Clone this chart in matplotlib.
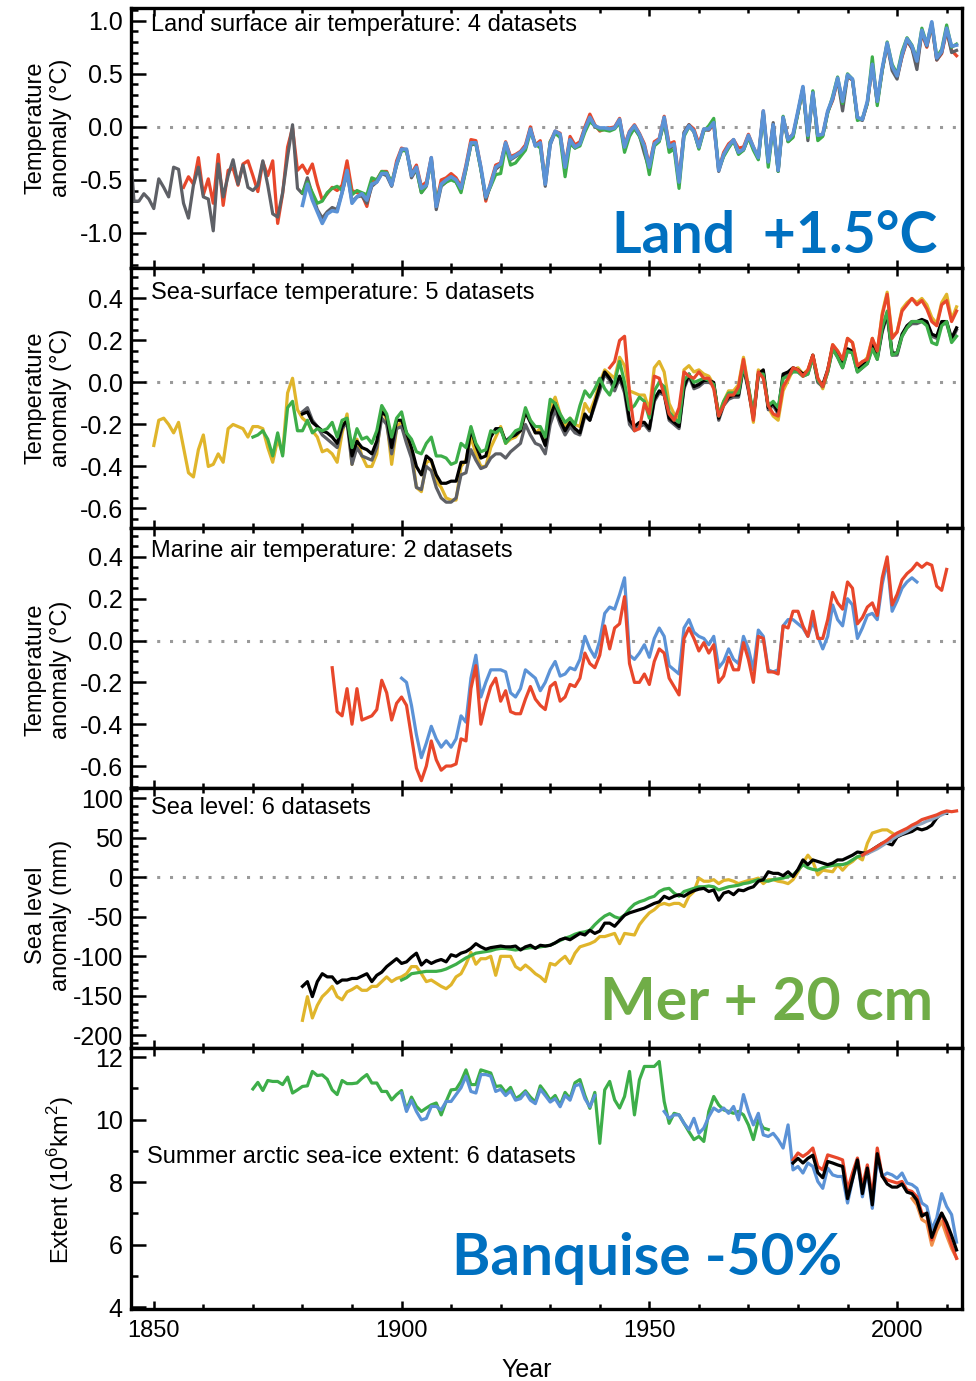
import numpy as np
import matplotlib.pyplot as plt
from matplotlib.ticker import MultipleLocator, FormatStrFormatter

plt.rcParams['font.family'] = ['Liberation Sans', 'DejaVu Sans']
plt.rcParams['axes.unicode_minus'] = False
plt.rcParams['mathtext.fontset'] = 'custom'
plt.rcParams['mathtext.rm'] = 'Liberation Sans'

# ---------------- Land surface air temperature (4 datasets) ----------------
land_blue_start = 1880
land_blue = [
    -0.74, -0.54, -0.69, -0.80, -0.91, -0.82, -0.79, -0.80, -0.62, -0.41,
    -0.72, -0.66, -0.63, -0.69, -0.54, -0.52, -0.44, -0.44, -0.55, -0.35,
    -0.21, -0.21, -0.46, -0.38, -0.58, -0.55, -0.29, -0.75, -0.54, -0.50,
    -0.47, -0.50, -0.58, -0.38, -0.15, -0.15, -0.38, -0.66, -0.54, -0.38,
    -0.35, -0.15, -0.30, -0.27, -0.24, -0.19, -0.02, -0.18, -0.15, -0.54,
    -0.16, -0.04, -0.07, -0.38, -0.12, -0.19, -0.16, -0.02, 0.09, 0.01,
    -0.01, -0.01, -0.02, -0.01, 0.07, -0.19, -0.05, 0.01, -0.07, -0.18,
    -0.38, -0.16, -0.12, 0.09, -0.19, -0.16, -0.52, -0.07, 0.01, -0.04,
    -0.19, -0.02, -0.02, 0.04, -0.41, -0.26, -0.18, -0.12, -0.24, -0.21,
    -0.08, -0.19, -0.29, 0.15, -0.33, 0.02, -0.41, 0.09, -0.12, -0.07,
    0.15, 0.38, -0.08, 0.32, -0.08, -0.07, 0.15, 0.27, 0.46, 0.24,
    0.49, 0.45, 0.09, 0.07, 0.24, 0.59, 0.24, 0.55, 0.79, 0.57,
    0.48, 0.68, 0.83, 0.76, 0.62, 0.91, 0.77, 0.99, 0.65, 0.71,
    0.93, 0.76, 0.77]
land_green_start = 1880
land_green = [
    -0.62, -0.52, -0.62, -0.72, -0.70, -0.62, -0.58, -0.56, -0.60, -0.42,
    -0.64, -0.60, -0.62, -0.64, -0.48, -0.50, -0.42, -0.43, -0.52, -0.36,
    -0.22, -0.23, -0.44, -0.40, -0.62, -0.55, -0.32, -0.70, -0.55, -0.52,
    -0.50, -0.52, -0.62, -0.40, -0.16, -0.16, -0.40, -0.66, -0.56, -0.45,
    -0.44, -0.18, -0.36, -0.34, -0.28, -0.22, -0.05, -0.16, -0.20, -0.52,
    -0.14, -0.06, -0.10, -0.47, -0.16, -0.20, -0.18, -0.05, 0.05, 0.01,
    -0.03, -0.03, -0.04, -0.02, 0.04, -0.24, -0.09, -0.01, -0.09, -0.20,
    -0.45, -0.18, -0.14, 0.06, -0.24, -0.21, -0.58, -0.09, 0.00, -0.04,
    -0.21, -0.04, 0.01, 0.08, -0.40, -0.28, -0.20, -0.13, -0.26, -0.22,
    -0.10, -0.22, -0.31, 0.13, -0.38, 0.00, -0.42, 0.10, -0.14, -0.10,
    0.13, 0.36, -0.10, 0.34, -0.13, -0.09, 0.13, 0.29, 0.47, 0.22,
    0.50, 0.45, 0.06, 0.08, 0.22, 0.66, 0.20, 0.53, 0.80, 0.59,
    0.50, 0.71, 0.84, 0.77, 0.64, 0.93, 0.78, 0.98, 0.66, 0.73,
    0.96, 0.75, 0.78]
land_red_start = 1856
land_red = [
    -0.57, -0.47, -0.54, -0.29,
    -0.64, -0.49, -0.72, -0.26, -0.74, -0.41, -0.39, -0.55, -0.35, -0.32,
    -0.46, -0.61, -0.33, -0.46, -0.32, -0.91, -0.63, -0.19, -0.01, -0.41,
    -0.36, -0.44, -0.35, -0.54, -0.69, -0.63, -0.57, -0.60, -0.55, -0.32,
    -0.60, -0.62, -0.64, -0.75, -0.52, -0.50, -0.42, -0.42, -0.55, -0.32,
    -0.20, -0.22, -0.44, -0.36, -0.56, -0.52, -0.29, -0.72, -0.50, -0.48,
    -0.44, -0.48, -0.56, -0.36, -0.12, -0.13, -0.38, -0.70, -0.52, -0.36,
    -0.34, -0.14, -0.28, -0.26, -0.23, -0.17, 0.00, -0.17, -0.13, -0.52,
    -0.14, -0.04, -0.06, -0.37, -0.09, -0.17, -0.14, 0.00, 0.12, 0.02,
    -0.04, -0.02, -0.01, 0.00, 0.08, -0.17, -0.04, 0.02, -0.06, -0.16,
    -0.36, -0.14, -0.11, 0.10, -0.16, -0.14, -0.49, -0.06, 0.02, -0.02,
    -0.16, -0.02, -0.03, 0.02, -0.40, -0.24, -0.16, -0.12, -0.20, -0.19,
    -0.07, -0.19, -0.29, 0.15, -0.33, 0.02, -0.41, 0.09, -0.11, -0.07,
    0.13, 0.36, -0.09, 0.31, -0.09, -0.07, 0.14, 0.25, 0.44, 0.23,
    0.48, 0.44, 0.08, 0.07, 0.22, 0.58, 0.23, 0.53, 0.77, 0.56,
    0.47, 0.66, 0.81, 0.74, 0.60, 0.88, 0.75, 0.96, 0.63, 0.69,
    0.90, 0.72, 0.67]
land_grey_start = 1845
land_grey = [
    -0.05, -0.70, -0.70, -0.63, -0.68,
    -0.77, -0.49, -0.57, -0.66, -0.38, -0.40, -0.72, -0.86, -0.55, -0.38,
    -0.66, -0.68, -0.98, -0.35, -0.66, -0.46, -0.31, -0.54, -0.36, -0.57,
    -0.60, -0.55, -0.32, -0.55, -0.82, -0.85, -0.62, -0.28, 0.02, -0.58,
    -0.63, -0.48, -0.64, -0.78, -0.86, -0.80, -0.76, -0.78, -0.62, -0.44,
    -0.70, -0.66, -0.65, -0.72, -0.56, -0.52, -0.44, -0.46, -0.56, -0.36,
    -0.22, -0.22, -0.48, -0.40, -0.62, -0.56, -0.30, -0.78, -0.56, -0.52,
    -0.48, -0.52, -0.60, -0.40, -0.17, -0.16, -0.40, -0.68, -0.55, -0.40,
    -0.36, -0.16, -0.31, -0.28, -0.25, -0.20, -0.02, -0.18, -0.16, -0.56,
    -0.17, -0.05, -0.08, -0.40, -0.12, -0.20, -0.16, -0.02, 0.08, 0.00,
    -0.02, -0.02, -0.03, -0.01, 0.06, -0.20, -0.06, -0.02, -0.08, -0.25,
    -0.40, -0.17, -0.13, 0.04, -0.21, -0.17, -0.53, -0.05, 0.02, -0.05,
    -0.20, -0.03, -0.03, 0.05, -0.42, -0.27, -0.19, -0.13, -0.25, -0.22,
    -0.10, -0.20, -0.30, 0.14, -0.34, 0.04, -0.42, 0.08, -0.14, -0.09,
    0.14, 0.37, -0.13, 0.33, -0.10, -0.08, 0.14, 0.26, 0.45, 0.15,
    0.48, 0.44, 0.08, 0.06, 0.23, 0.58, 0.23, 0.54, 0.78, 0.53,
    0.45, 0.67, 0.82, 0.74, 0.54, 0.90, 0.76, 0.97, 0.63, 0.70,
    0.92, 0.70, 0.72]

# ---------------- Sea-surface temperature (5 datasets) ----------------
sst_yellow_start = 1850
sst_yellow = [
    -0.30, -0.18, -0.17, -0.20, -0.24, -0.19, -0.31, -0.43, -0.45, -0.32,
    -0.25, -0.40, -0.39, -0.34, -0.38, -0.22, -0.20, -0.21, -0.22, -0.26,
    -0.21, -0.21, -0.22, -0.31, -0.38, -0.27, -0.34, -0.05, 0.02, -0.13,
    -0.17, -0.19, -0.23, -0.26, -0.33, -0.32, -0.34, -0.38, -0.24, -0.15,
    -0.39, -0.27, -0.35, -0.40, -0.40, -0.34, -0.12, -0.18, -0.39, -0.22,
    -0.18, -0.26, -0.32, -0.50, -0.52, -0.38, -0.37, -0.47, -0.50, -0.55,
    -0.56, -0.56, -0.40, -0.37, -0.26, -0.34, -0.40, -0.40, -0.31, -0.26,
    -0.21, -0.29, -0.27, -0.26, -0.23, -0.14, -0.18, -0.24, -0.22, -0.28,
    -0.12, -0.07, -0.15, -0.21, -0.17, -0.20, -0.21, -0.10, -0.14, -0.08,
    0.00, 0.06, 0.04, 0.02, 0.12, 0.08, -0.04, -0.05, -0.06, -0.06,
    -0.13, 0.07, 0.10, 0.05, -0.10, -0.15, -0.18, 0.06, 0.08, 0.05,
    0.06, 0.04, 0.03, -0.01, -0.15, -0.09, -0.04, -0.04, -0.01, 0.12,
    -0.02, -0.19, 0.06, 0.04, -0.12, -0.16, -0.18, -0.04, 0.01, 0.06,
    0.07, 0.04, 0.06, 0.13, 0.02, -0.03, 0.05, 0.18, 0.15, 0.10,
    0.21, 0.19, 0.08, 0.09, 0.12, 0.21, 0.14, 0.33, 0.43, 0.22,
    0.24, 0.35, 0.38, 0.40, 0.38, 0.40, 0.37, 0.31, 0.28, 0.38,
    0.42, 0.30, 0.36]
sst_green_start = 1870
sst_green = [
    -0.26, -0.25, -0.23, -0.27, -0.35, -0.24, -0.35, -0.12, -0.09, -0.23,
    -0.23, -0.18, -0.24, -0.22, -0.23, -0.22, -0.19, -0.26, -0.18, -0.17,
    -0.31, -0.22, -0.27, -0.26, -0.29, -0.23, -0.11, -0.15, -0.26, -0.17,
    -0.14, -0.24, -0.27, -0.33, -0.34, -0.29, -0.26, -0.35, -0.35, -0.36,
    -0.39, -0.38, -0.29, -0.31, -0.21, -0.29, -0.33, -0.32, -0.23, -0.24,
    -0.22, -0.29, -0.26, -0.23, -0.22, -0.12, -0.18, -0.21, -0.21, -0.26,
    -0.08, -0.10, -0.15, -0.19, -0.17, -0.20, -0.11, -0.04, -0.07, -0.03,
    0.02, -0.03, -0.06, 0.00, 0.10, 0.00, -0.13, -0.11, -0.07, -0.09,
    -0.17, -0.04, 0.00, -0.02, -0.14, -0.17, -0.19, 0.01, 0.04, 0.00,
    0.01, 0.02, 0.01, -0.01, -0.16, -0.09, -0.05, -0.05, -0.05, 0.08,
    -0.02, -0.15, 0.04, 0.04, -0.11, -0.09, -0.12, 0.02, 0.03, 0.05,
    0.05, 0.03, 0.04, 0.12, 0.01, -0.02, 0.05, 0.16, 0.12, 0.07,
    0.15, 0.14, 0.05, 0.07, 0.09, 0.16, 0.11, 0.26, 0.34, 0.13,
    0.14, 0.22, 0.26, 0.29, 0.29, 0.29, 0.27, 0.19, 0.18, 0.27,
    0.29, 0.19, 0.22]
sst_black_start = 1880
sst_black = [
    -0.15, -0.14, -0.19, -0.21, -0.23, -0.24, -0.26, -0.29, -0.21, -0.18,
    -0.35, -0.28, -0.31, -0.32, -0.34, -0.28, -0.14, -0.16, -0.31, -0.18,
    -0.18, -0.24, -0.31, -0.40, -0.44, -0.35, -0.37, -0.44, -0.48, -0.48,
    -0.47, -0.47, -0.38, -0.38, -0.22, -0.30, -0.36, -0.35, -0.26, -0.22,
    -0.22, -0.28, -0.26, -0.25, -0.23, -0.14, -0.19, -0.24, -0.24, -0.30,
    -0.16, -0.10, -0.18, -0.23, -0.19, -0.22, -0.24, -0.15, -0.18, -0.10,
    -0.02, 0.05, 0.02, -0.02, 0.03, -0.03, -0.18, -0.21, -0.19, -0.19,
    -0.22, -0.08, -0.04, -0.05, -0.17, -0.19, -0.21, -0.02, 0.04, -0.02,
    -0.01, 0.01, 0.01, 0.00, -0.17, -0.10, -0.07, -0.06, -0.06, 0.08,
    -0.03, -0.16, 0.04, 0.06, -0.12, -0.10, -0.14, 0.04, 0.05, 0.07,
    0.06, 0.04, 0.05, 0.13, 0.01, -0.01, 0.06, 0.17, 0.13, 0.08,
    0.16, 0.15, 0.06, 0.08, 0.10, 0.18, 0.12, 0.25, 0.33, 0.14,
    0.14, 0.23, 0.27, 0.29, 0.29, 0.30, 0.29, 0.23, 0.22, 0.29,
    0.29, 0.21, 0.26]
sst_grey_start = 1880
sst_grey = [
    -0.14, -0.12, -0.18, -0.21, -0.25, -0.27, -0.29, -0.31, -0.22, -0.19,
    -0.39, -0.31, -0.35, -0.36, -0.37, -0.31, -0.17, -0.20, -0.34, -0.22,
    -0.21, -0.29, -0.36, -0.50, -0.51, -0.40, -0.42, -0.50, -0.55, -0.57,
    -0.57, -0.55, -0.44, -0.43, -0.32, -0.37, -0.41, -0.40, -0.36, -0.34,
    -0.34, -0.36, -0.33, -0.31, -0.29, -0.20, -0.25, -0.29, -0.30, -0.34,
    -0.20, -0.13, -0.20, -0.25, -0.21, -0.24, -0.25, -0.16, -0.18, -0.11,
    -0.04, 0.04, 0.01, -0.04, 0.02, -0.05, -0.20, -0.23, -0.21, -0.20,
    -0.23, -0.09, -0.05, -0.06, -0.18, -0.20, -0.22, -0.03, 0.03, -0.03,
    -0.02, 0.00, 0.00, -0.01, -0.18, -0.11, -0.08, -0.07, -0.07, 0.07,
    -0.04, -0.17, 0.03, 0.05, -0.13, -0.11, -0.15, 0.03, 0.04, 0.06,
    0.05, 0.03, 0.04, 0.12, 0.00, -0.02, 0.05, 0.16, 0.12, 0.07,
    0.15, 0.14, 0.05, 0.07, 0.09, 0.17, 0.11, 0.24, 0.32, 0.13,
    0.13, 0.22, 0.26, 0.28, 0.28, 0.29, 0.28, 0.22, 0.21, 0.28,
    0.28, 0.20, 0.25]
sst_red_start = 1942
sst_red = [
    0.07, 0.10, 0.20, 0.22, -0.05, -0.23, -0.22, -0.10,
    -0.15, 0.03, 0.02, -0.06, -0.15, -0.18, -0.12, 0.05, 0.03, 0.02,
    0.05, 0.02, 0.02, -0.03, -0.16, -0.11, -0.06, -0.06, -0.02, 0.11,
    -0.03, -0.18, 0.05, 0.02, -0.11, -0.15, -0.16, -0.02, 0.02, 0.07,
    0.06, 0.03, 0.06, 0.13, 0.02, -0.02, 0.06, 0.18, 0.15, 0.11,
    0.21, 0.19, 0.08, 0.10, 0.11, 0.21, 0.15, 0.32, 0.42, 0.21,
    0.24, 0.34, 0.37, 0.40, 0.37, 0.39, 0.35, 0.29, 0.27, 0.37,
    0.39, 0.29, 0.34]

# ---------------- Marine air temperature (2 datasets) ----------------
mat_red_start = 1886
mat_red = [
    -0.13, -0.34, -0.36, -0.23,
    -0.40, -0.23, -0.38, -0.37, -0.36, -0.33, -0.19, -0.25, -0.38, -0.30,
    -0.27, -0.31, -0.46, -0.61, -0.67, -0.60, -0.48, -0.57, -0.62, -0.60,
    -0.60, -0.59, -0.47, -0.48, -0.23, -0.12, -0.40, -0.30, -0.22, -0.18,
    -0.29, -0.24, -0.34, -0.35, -0.35, -0.28, -0.22, -0.28, -0.31, -0.33,
    -0.22, -0.20, -0.29, -0.27, -0.21, -0.22, -0.18, -0.06, -0.11, -0.13,
    -0.07, 0.07, -0.04, 0.06, 0.08, 0.21, -0.11, -0.20, -0.20, -0.16,
    -0.21, -0.10, -0.04, -0.06, -0.18, -0.22, -0.26, 0.01, 0.06, 0.01,
    -0.05, -0.01, -0.06, -0.02, -0.20, -0.17, -0.08, -0.14, -0.14, -0.01,
    -0.09, -0.20, 0.02, 0.01, -0.15, -0.15, -0.16, 0.07, 0.06, 0.14,
    0.14, 0.07, 0.02, 0.14, 0.01, 0.01, 0.10, 0.23, 0.18, 0.15,
    0.28, 0.25, 0.08, 0.11, 0.16, 0.18, 0.12, 0.30, 0.40, 0.17,
    0.22, 0.29, 0.32, 0.34, 0.37, 0.35, 0.37, 0.36, 0.26, 0.24,
    0.34]
mat_blue_start = 1900
mat_blue = [
    -0.18, -0.20, -0.31, -0.45, -0.56, -0.49, -0.41, -0.47, -0.51, -0.48,
    -0.51, -0.47, -0.36, -0.39, -0.18, -0.07, -0.27, -0.20, -0.14, -0.14,
    -0.14, -0.15, -0.25, -0.27, -0.23, -0.14, -0.16, -0.18, -0.24, -0.20,
    -0.14, -0.10, -0.17, -0.16, -0.13, -0.14, -0.09, 0.02, -0.04, -0.08,
    0.00, 0.13, 0.16, 0.15, 0.22, 0.30, -0.07, -0.09, -0.06, -0.02,
    -0.08, 0.01, 0.06, 0.02, -0.12, -0.14, -0.16, 0.06, 0.10, 0.04,
    0.02, 0.01, -0.02, 0.02, -0.13, -0.10, -0.04, -0.09, -0.11, 0.02,
    -0.04, -0.14, 0.05, 0.02, -0.14, -0.15, -0.14, 0.07, 0.10, 0.10,
    0.08, 0.06, 0.02, 0.09, 0.02, -0.04, 0.02, 0.17, 0.10, 0.07,
    0.20, 0.17, 0.01, 0.06, 0.12, 0.13, 0.10, 0.27, 0.38, 0.14,
    0.19, 0.25, 0.28, 0.30, 0.28]

# ---------------- Sea level (6 datasets), mm ----------------
sl_black_start = 1880
sl_black = [
    -138, -132, -151, -132, -122, -126, -126, -134, -130, -130,
    -128, -128, -125, -122, -132, -124, -120, -113, -108, -103,
    -109, -107, -101, -96, -111, -105, -109, -106, -104, -107,
    -98, -100, -96, -94, -90, -84, -88, -91, -89, -88,
    -87, -88, -88, -87, -92, -88, -86, -90, -86, -87,
    -86, -83, -79, -77, -79, -75, -71, -73, -67, -71,
    -68, -58, -58, -62, -55, -48, -45, -43, -41, -39,
    -36, -33, -31, -24, -27, -24, -22, -24, -20, -17,
    -15, -14, -18, -16, -29, -20, -18, -22, -16, -17,
    -14, -12, -5, -3, 7, 5, 5, 2, 7, 1,
    10, 22, 16, 22, 20, 18, 16, 18, 22, 22,
    25, 28, 32, 31, 30, 35, 39, 43, 43, 41,
    51, 54, 56, 58, 62, 60, 62, 66, 75, 81, 81]
sl_yellow_start = 1880
sl_yellow = [
    -181, -151, -178, -162, -151, -145, -138, -151, -155, -145,
    -142, -138, -143, -143, -138, -138, -132, -126, -132, -128,
    -126, -122, -113, -113, -122, -132, -130, -134, -138, -141,
    -136, -126, -122, -110, -95, -110, -103, -103, -100, -124,
    -100, -100, -100, -113, -117, -111, -116, -122, -126, -132,
    -109, -111, -105, -100, -109, -96, -88, -86, -84, -81,
    -75, -75, -73, -71, -84, -71, -72, -73, -60, -52,
    -45, -41, -35, -33, -35, -33, -33, -37, -24, -18,
    -1, -5, -5, -3, -8, -4, -3, -5, -8, -6,
    -4, -3, -1, -8, -3, -3, -5, -6, -8, -3,
    7, 18, 28, 20, 3, 9, 8, 7, 16, 9,
    16, 20, 26, 22, 43, 56, 58, 60, 60, 56, 52]
sl_green_start = 1900
sl_green = [
    -130, -127, -122, -121, -120, -119, -119, -119, -118, -116,
    -113, -110, -106, -102, -99, -96, -95, -94, -93, -91,
    -90, -90, -91, -92, -91, -90, -89, -89, -88, -87,
    -86, -83, -80, -77, -75, -72, -70, -69, -67, -60,
    -54, -49, -46, -50, -52, -48, -40, -34, -31, -29,
    -26, -24, -18, -15, -14, -20, -24, -18, -16, -14,
    -12, -12, -11, -12, -16, -14, -12, -11, -10, -8,
    -7, -5, -3, -4, -5, -3, -2, -1, 1, 3,
    9, 16, 12, 10, 9, 12, 14, 15, 16, 16,
    18, 22, 26, 28]
sl_red_start = 1993
sl_red = [28, 32, 35, 39, 43, 47, 52, 56, 59, 62,
          66, 69, 73, 75, 77, 79, 82, 84, 83, 84]
sl_bluegrey_start = 1993
sl_bluegrey = [28, 30, 33, 36, 40, 44, 48, 52, 55, 58,
               62, 66, 68, 71, 73, 76, 79, 82]

# ---------------- Summer arctic sea-ice extent (10^6 km^2) ----------------
ice_green_start = 1870
ice_green = [
    10.98, 11.19, 10.93, 11.25, 11.22, 11.22, 11.12, 11.36, 10.85, 10.95,
    11.06, 11.08, 11.54, 11.41, 11.43, 11.29, 10.95, 10.80, 11.25, 11.15,
    11.15, 11.17, 11.32, 11.44, 11.17, 11.17, 10.90, 10.90, 10.63, 10.80,
    10.93, 10.31, 10.72, 10.42, 10.26, 10.37, 10.47, 10.53, 10.15, 10.58,
    10.95, 10.97, 11.22, 11.59, 11.12, 11.12, 11.59, 11.54, 11.49, 11.06,
    11.08, 10.87, 11.03, 10.67, 10.77, 10.92, 10.72, 10.56, 11.08, 10.87,
    10.62, 10.77, 10.46, 10.87, 10.67, 11.18, 11.28, 10.77, 10.36, 10.87,
    9.24, 10.95, 11.22, 10.63, 10.37, 10.74, 11.54, 10.15, 11.27, 11.70,
    11.70, 11.70, 11.86, 10.58, 9.88, 10.20, 10.15, 9.88, 9.61, 9.36,
    9.46, 9.30, 10.26, 10.74, 10.47, 10.31, 10.26, 10.20, 10.26, 10.15,
    9.83, 9.36, 9.99, 9.73, 9.68]
ice_blue_early_start = 1900
ice_blue_early = [
    10.85, 10.26, 10.62, 10.26, 9.99, 10.04, 10.42, 10.42, 10.31, 10.58,
    10.58, 10.80, 11.02, 11.39, 10.90, 10.85, 11.44, 11.44, 11.39, 10.90,
    10.97, 10.77, 10.92, 10.62, 10.67, 10.87, 10.62, 10.51, 10.97, 10.77,
    10.56, 10.67, 10.41, 10.77, 10.62, 11.08, 11.13, 10.67, 10.41, 10.77]
ice_blue_late_start = 1953
ice_blue_late = [
    10.26, 10.04, 10.15, 10.15, 9.88, 9.68, 10.04,
    9.56, 9.73, 10.09, 10.37, 10.26, 10.37, 10.20, 10.42, 9.99, 10.80,
    10.26, 9.83, 10.20, 9.51, 9.46, 9.56, 9.36, 9.09, 9.83, 8.39,
    8.50, 8.29, 8.61, 8.50, 8.02, 7.80, 8.45, 8.23, 8.18, 8.18,
    7.33, 8.07, 8.71, 7.53, 8.39, 7.16, 8.71, 8.18, 8.29, 8.23,
    8.12, 8.29, 7.97, 7.92, 7.80, 7.33, 7.22, 6.49, 6.85, 7.63,
    7.22, 6.96, 6.08]
ice_red_start = 1979
ice_red = [
    8.71, 8.93, 8.82, 8.93, 9.09, 8.50, 8.39, 8.87, 8.82, 8.77,
    8.71, 7.75, 8.29, 8.77, 7.85, 8.55, 7.53, 9.09, 8.18, 8.07,
    8.02, 7.97, 8.02, 7.75, 7.70, 7.53, 7.00, 6.95, 6.15, 6.63,
    7.00, 6.47, 5.99, 5.56]
ice_black_start = 1979
ice_black = [
    8.61, 8.76, 8.61, 8.76, 8.86, 8.30, 8.14, 8.66, 8.61, 8.55,
    8.50, 7.47, 8.09, 8.71, 7.63, 8.45, 7.27, 8.91, 8.19, 7.94,
    7.84, 7.84, 7.94, 7.68, 7.63, 7.42, 6.91, 7.01, 6.23, 6.65,
    7.01, 6.70, 6.29, 5.83]
ice_orange_start = 2003
ice_orange = [7.48, 7.27, 6.80, 6.70, 5.98, 6.44, 6.75, 6.29, 5.88, 5.57]

RED = '#E8472B'
BLUE = '#5B92D6'
GREEN = '#3DAE49'
GREY = '#5E6066'
YELLOW = '#E0B52B'
ORANGE = '#F0904A'
BLUEGREY = '#8CA3BE'
LW = 2.3


def yrs(start, vals):
    return np.arange(start, start + len(vals))


fig = plt.figure(figsize=(9.76, 13.81), dpi=100)
W, H = 976.0, 1381.0
left_px, right_px = 131, 962
edges = [8, 268, 528, 788, 1048, 1309]
axes = []
for i in range(5):
    top, bot = edges[i], edges[i + 1]
    ax = fig.add_axes([left_px / W, 1 - bot / H, (right_px - left_px) / W, (bot - top) / H])
    axes.append(ax)
ax1, ax2, ax3, ax4, ax5 = axes

# panel 1
ax1.plot(yrs(land_red_start, land_red), land_red, color=RED, lw=LW)
ax1.plot(yrs(land_grey_start, land_grey), land_grey, color=GREY, lw=LW)
ax1.plot(yrs(land_green_start, land_green), land_green, color=GREEN, lw=LW)
ax1.plot(yrs(land_blue_start, land_blue), land_blue, color=BLUE, lw=LW + 0.3)
ax1.set_ylim(-1.33, 1.12)
ax1.yaxis.set_major_locator(MultipleLocator(0.5))
ax1.yaxis.set_minor_locator(MultipleLocator(0.1))
ax1.yaxis.set_major_formatter(FormatStrFormatter('%.1f'))
ax1.set_ylabel('Temperature\nanomaly (°C)')

# panel 2
ax2.plot(yrs(sst_yellow_start, sst_yellow), sst_yellow, color=YELLOW, lw=LW)
ax2.plot(yrs(sst_grey_start, sst_grey), sst_grey, color=GREY, lw=LW)
ax2.plot(yrs(sst_black_start, sst_black), sst_black, color='black', lw=LW)
ax2.plot(yrs(sst_green_start, sst_green), sst_green, color=GREEN, lw=LW)
ax2.plot(yrs(sst_red_start, sst_red), sst_red, color=RED, lw=LW)
ax2.set_ylim(-0.693, 0.545)
ax2.yaxis.set_major_locator(MultipleLocator(0.2))
ax2.yaxis.set_minor_locator(MultipleLocator(0.05))
ax2.yaxis.set_major_formatter(FormatStrFormatter('%.1f'))
ax2.set_ylabel('Temperature\nanomaly (°C)')

# panel 3
ax3.plot(yrs(mat_blue_start, mat_blue), mat_blue, color=BLUE, lw=LW)
ax3.plot(yrs(mat_red_start, mat_red), mat_red, color=RED, lw=LW)
ax3.set_ylim(-0.705, 0.538)
ax3.yaxis.set_major_locator(MultipleLocator(0.2))
ax3.yaxis.set_minor_locator(MultipleLocator(0.05))
ax3.yaxis.set_major_formatter(FormatStrFormatter('%.1f'))
ax3.set_ylabel('Temperature\nanomaly (°C)')

# panel 4
ax4.plot(yrs(sl_yellow_start, sl_yellow), sl_yellow, color=YELLOW, lw=LW)
ax4.plot(yrs(sl_green_start, sl_green), sl_green, color=GREEN, lw=LW)
ax4.plot(yrs(sl_black_start, sl_black), sl_black, color='black', lw=LW)
ax4.plot(yrs(sl_bluegrey_start, sl_bluegrey), sl_bluegrey, color=BLUEGREY, lw=LW)
ax4.plot(yrs(sl_red_start, sl_red), sl_red, color=RED, lw=LW)
ax4.set_ylim(-216, 113)
ax4.yaxis.set_major_locator(MultipleLocator(50))
ax4.yaxis.set_minor_locator(MultipleLocator(10))
ax4.set_ylabel('Sea level\nanomaly (mm)')

# panel 5
ax5.plot(yrs(ice_green_start, ice_green), ice_green, color=GREEN, lw=LW)
ax5.plot(yrs(ice_blue_early_start, ice_blue_early), ice_blue_early, color=BLUE, lw=LW)
ax5.plot(yrs(ice_blue_late_start, ice_blue_late), ice_blue_late, color=BLUE, lw=LW)
ax5.plot(yrs(ice_orange_start, ice_orange), ice_orange, color=ORANGE, lw=LW)
ax5.plot(yrs(ice_red_start, ice_red), ice_red, color=RED, lw=LW)
ax5.plot(yrs(ice_black_start, ice_black), ice_black, color='black', lw=LW)
ax5.set_ylim(3.94, 12.29)
ax5.yaxis.set_major_locator(MultipleLocator(2))
ax5.yaxis.set_minor_locator(MultipleLocator(1))
ax5.set_ylabel('Extent (10$^6$km$^2$)')

label_y = [0.54, 0.5, 0.455, 0.51, 0.494]
label_x = [-0.071, -0.071, -0.071, -0.071, -0.066]
for i, ax in enumerate(axes):
    ax.set_xlim(1845.4, 2013.1)
    ax.xaxis.set_major_locator(MultipleLocator(50))
    ax.xaxis.set_minor_locator(MultipleLocator(10))
    for s in ax.spines.values():
        s.set_linewidth(2.4)
    ax.tick_params(axis='x', which='both', direction='in', top=True, bottom=True,
                   width=1.8, labelsize=17, pad=8)
    ax.tick_params(axis='x', which='major', length=6)
    ax.tick_params(axis='x', which='minor', length=3.5)
    ax.tick_params(axis='y', which='both', direction='in', left=True, right=False,
                   width=1.8, labelsize=18, pad=6)
    ax.tick_params(axis='y', which='major', length=11)
    ax.tick_params(axis='y', which='minor', length=5)
    if i < 4:
        ax.tick_params(axis='x', labelbottom=False)
        ax.axhline(0, color='#9A9A9A', lw=2.2, ls=(0, (1, 3.2)), zorder=0.5)
    ax.yaxis.label.set_size(17)
    ax.yaxis.set_label_coords(label_x[i], label_y[i])

ax1.text(0.024, 0.935, 'Land surface air temperature: 4 datasets', transform=ax1.transAxes,
         fontsize=17, va='center')
ax2.text(0.024, 0.904, 'Sea-surface temperature: 5 datasets', transform=ax2.transAxes,
         fontsize=17, va='center')
ax3.text(0.024, 0.912, 'Marine air temperature: 2 datasets', transform=ax3.transAxes,
         fontsize=17, va='center')
ax4.text(0.024, 0.923, 'Sea level: 6 datasets', transform=ax4.transAxes,
         fontsize=17, va='center')
ax5.text(0.019, 0.582, 'Summer arctic sea-ice extent: 6 datasets', transform=ax5.transAxes,
         fontsize=17, va='center')

big = dict(fontfamily=['Lato', 'DejaVu Sans'], fontweight='bold', va='baseline')
ax1.text(0.579, 0.058, 'Land  +1.5°C', transform=ax1.transAxes, color='#0070C0',
         fontsize=41, **big)
ax4.text(0.564, 0.108, 'Mer + 20 cm', transform=ax4.transAxes, color='#70AD47',
         fontsize=42.5, **big)
ax5.text(0.386, 0.130, 'Banquise -50%', transform=ax5.transAxes, color='#0070C0',
         fontsize=42, **big)

fig.text(527 / W, 1 - 1370 / H, 'Year', ha='center', va='center', fontsize=18)

fig.savefig('out.png', dpi=100)
